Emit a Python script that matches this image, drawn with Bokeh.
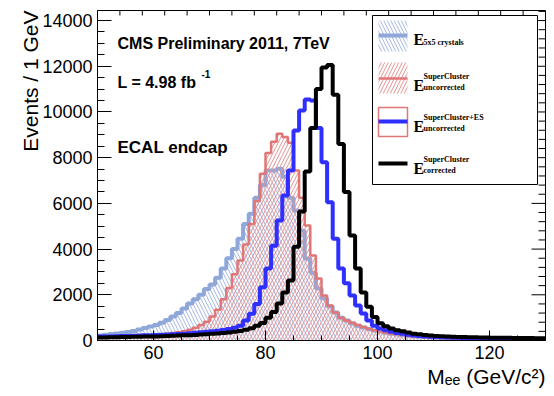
import numpy as np
from bokeh.plotting import figure
from bokeh.models import Range1d, SingleIntervalTicker, Label, Title
from bokeh.embed import file_html
from bokeh.resources import INLINE

# ---------------- data (events per 1 GeV bin, bins 50..129 GeV) ----------------
bin_lo = list(range(50, 130))

e5x5 = [220, 250, 280, 310, 340, 370, 420, 480, 550, 610,
        680, 780, 900, 1050, 1200, 1400, 1620, 1800, 2000, 2250,
        2450, 2750, 3150, 3600, 4000, 4450, 5100, 5550, 6250, 6800,
        7440, 7440, 7520, 7170, 6250, 5690, 4800, 3590, 2970, 2270,
        1840, 1490, 1220, 1000, 875, 740, 650, 570, 500, 440,
        390, 340, 300, 265, 235, 210, 185, 165, 150, 135,
        120, 110, 100, 92, 85, 78, 72, 67, 62, 58,
        55, 52, 50, 47, 45, 43, 41, 39, 37, 35]

sc_uncorr = [110, 120, 130, 140, 150, 165, 180, 195, 210, 230,
             250, 275, 300, 330, 360, 400, 470, 560, 680, 820,
             1050, 1350, 1800, 2300, 2900, 3500, 4200, 5100, 6100, 7300,
             8200, 8700, 9050, 8900, 8650, 7440, 6250, 5030, 3720, 2710,
             1970, 1530, 1220, 1000, 875, 780, 680, 590, 510, 450,
             390, 340, 300, 270, 240, 210, 190, 170, 150, 135,
             120, 110, 100, 92, 85, 80, 75, 70, 65, 62,
             60, 57, 55, 52, 50, 48, 46, 44, 42, 40]

sces_uncorr = [170, 175, 180, 190, 195, 200, 210, 215, 225, 235,
               245, 255, 265, 275, 285, 300, 320, 340, 360, 380,
               400, 430, 460, 500, 560, 650, 875, 1170, 1600, 2330,
               3150, 4150, 5250, 6340, 7440, 9190, 10060, 10550, 10500, 9300,
               7800, 6050, 4450, 3150, 2500, 1970, 1530, 1180, 875, 650,
               520, 450, 380, 330, 290, 250, 220, 200, 180, 160,
               150, 140, 130, 120, 115, 110, 105, 100, 95, 92,
               90, 87, 85, 82, 80, 77, 75, 72, 70, 68]

sc_corr = [130, 135, 140, 145, 150, 155, 160, 165, 170, 175,
           180, 190, 200, 205, 215, 225, 235, 245, 260, 275,
           290, 310, 330, 355, 385, 420, 470, 540, 640, 770,
           1000, 1250, 1620, 2100, 2620, 4100, 5650, 7400, 9300, 11000,
           11950, 12050, 10750, 8600, 6500, 4600, 3150, 2100, 1480, 1030,
           760, 620, 520, 450, 400, 350, 300, 270, 240, 220,
           200, 185, 175, 165, 155, 150, 145, 140, 135, 130,
           125, 120, 118, 115, 112, 110, 108, 105, 102, 100]

x_major = 20
y_major = 2000
n_minor = 4

# ---------------- layout helpers (pixel -> data) ----------------
FL, FR, FT, FB = 97, 545, 10, 340
XMIN, XMAX, YMIN, YMAX = 50, 130, 0, 14440


def dx(px):
    return XMIN + (px - FL) * (XMAX - XMIN) / (FR - FL)


def dy(py):
    return YMIN + (FB - py) * (YMAX - YMIN) / (FB - FT)


PX_X = (XMAX - XMIN) / (FR - FL)   # data units per pixel (x)
PX_Y = (YMAX - YMIN) / (FB - FT)   # data units per pixel (y)

LBLUE = "#8fa7d9"
LBLUE_H = "#a3b6e0"
RED = "#e07676"
RED_H = "#e39090"
BLUE = "#2f2fff"
BLACK = "#000000"

p = figure(frame_width=FR - FL, frame_height=FB - FT,
           x_range=Range1d(XMIN, XMAX), y_range=Range1d(YMIN, YMAX),
           output_backend="svg", toolbar_location=None,
           min_border_left=FL, min_border_right=554 - FR,
           min_border_top=FT, min_border_bottom=396 - FB)
p.xgrid.visible = False
p.ygrid.visible = False
p.outline_line_color = "black"
p.outline_line_width = 1
p.background_fill_color = "white"
p.border_fill_color = "white"

edges = np.array(bin_lo + [bin_lo[-1] + 1], dtype=float)
left = edges[:-1]
right = edges[1:]


def hist(vals, color, lw, hatch=None, hatch_color=None):
    vals = np.array(vals, dtype=float)
    if hatch:
        p.quad(left=left, right=right, bottom=0, top=vals, fill_color=None,
               line_color=None, hatch_pattern=hatch, hatch_color=hatch_color,
               hatch_scale=7, hatch_weight=1)
    p.step(x=edges, y=np.append(vals, vals[-1]), mode="after",
           line_color=color, line_width=lw)


hist(e5x5, LBLUE, 4, "\\", LBLUE_H)
hist(sc_uncorr, RED, 2.5, "/", RED_H)
hist(sces_uncorr, BLUE, 4)
hist(sc_corr, BLACK, 4)

# ---------------- axes ----------------
for ax, ticker_int, mj, mn in ((p.xaxis[0], x_major, 10, 5), (p.yaxis[0], y_major, 14, 7)):
    ax.ticker = SingleIntervalTicker(interval=ticker_int, num_minor_ticks=n_minor)
    ax.axis_line_color = "black"
    ax.major_tick_in = mj
    ax.major_tick_out = 0
    ax.minor_tick_in = mn
    ax.minor_tick_out = 0
    ax.major_tick_line_color = "black"
    ax.minor_tick_line_color = "black"
    ax.major_label_text_font = "Liberation Sans"
    ax.major_label_text_font_size = "18px"
    ax.major_label_text_color = "black"
    ax.major_label_standoff = 5

# ticks on the top and right frame edges (ROOT style)
step_x = x_major / (n_minor + 1)
tx = np.arange(XMIN, XMAX + 1e-9, step_x)
tx_len = np.where(np.isclose(np.mod(tx, x_major), 0), 10, 5) * PX_Y
p.segment(x0=tx, x1=tx, y0=YMAX, y1=YMAX - tx_len, line_color="black", line_width=1)
step_y = y_major / (n_minor + 1)
ty = np.arange(YMIN, YMAX + 1e-9, step_y)
ty_len = np.where(np.isclose(np.mod(ty, y_major), 0), 14, 7) * PX_X
p.segment(x0=XMAX, x1=XMAX - ty_len, y0=ty, y1=ty, line_color="black", line_width=1)

# axis titles (ROOT style: at the far ends of the axes)
p.add_layout(Title(text="Events / 1 GeV", align="right", text_font="Liberation Sans",
                   text_font_size="21px", text_font_style="normal", text_color="black",
                   standoff=-4), "left")
p.add_layout(Title(text="Mₑₑ (GeV/c²)", align="right", text_font="Liberation Sans",
                   text_font_size="21px", text_font_style="normal", text_color="black",
                   standoff=2), "below")


def lab(px, py, text, size, font="Liberation Sans", style="normal", align="left",
        baseline="alphabetic", color="black"):
    p.add_layout(Label(x=dx(px), y=dy(py), text=text, text_font=font,
                       text_font_size=f"{size}px", text_font_style=style,
                       text_align=align, text_baseline=baseline, text_color=color))


# annotations
lab(117, 43, "CMS Preliminary 2011, 7TeV", 16, style="bold")
lab(117, 82, "L = 4.98 fb", 16, style="bold")
lab(201, 73, "-1", 10, style="bold")
lab(117, 147, "ECAL endcap", 17, style="bold")

# ---------------- legend ----------------
p.quad(left=dx(372), right=dx(537), top=dy(15), bottom=dy(184),
       fill_color="white", line_color="black", line_width=1)
p.quad(left=dx(378), right=dx(407), top=dy(20), bottom=dy(51), fill_color=None,
       line_color=None, hatch_pattern="\\", hatch_color=LBLUE_H, hatch_scale=7, hatch_weight=1)
p.segment(x0=dx(378), x1=dx(407), y0=dy(35), y1=dy(35), line_color=LBLUE, line_width=4)
p.quad(left=dx(378), right=dx(407), top=dy(62), bottom=dy(93), fill_color=None,
       line_color=None, hatch_pattern="/", hatch_color=RED_H, hatch_scale=7, hatch_weight=1)
p.segment(x0=dx(378), x1=dx(407), y0=dy(78), y1=dy(78), line_color=RED, line_width=2.5)
p.quad(left=dx(378), right=dx(407), top=dy(107), bottom=dy(136), fill_color=None,
       line_color=RED, line_width=1.5)
p.segment(x0=dx(378), x1=dx(407), y0=dy(121), y1=dy(121), line_color=BLUE, line_width=4)
p.segment(x0=dx(378), x1=dx(407), y0=dy(163), y1=dy(163), line_color=BLACK, line_width=4)

SER = "Liberation Serif"
lab(413, 39, "E", 16, font=SER, style="bold")
lab(423, 42, "5x5 crystals", 8, font=SER, style="bold")
lab(413, 85, "E", 16, font=SER, style="bold")
lab(423, 76, "SuperCluster", 8, font=SER, style="bold")
lab(423, 87, "uncorrected", 8, font=SER, style="bold")
lab(413, 126, "E", 16, font=SER, style="bold")
lab(423, 117, "SuperCluster+ES", 8, font=SER, style="bold")
lab(423, 128, "uncorrected", 8, font=SER, style="bold")
lab(413, 168, "E", 16, font=SER, style="bold")
lab(423, 159, "SuperCluster", 8, font=SER, style="bold")
lab(423, 170, "corrected", 8, font=SER, style="bold")

open("out.html", "w").write(file_html(p, INLINE))
